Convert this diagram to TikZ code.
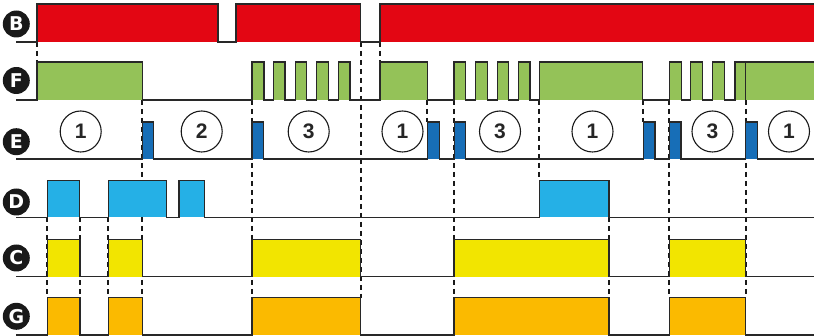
\documentclass[tikz,border=0pt]{standalone}
\usepackage{fontspec}
\setmainfont{Liberation Sans}
\newfontfamily\lblfont{DejaVu Sans}
\definecolor{cB}{RGB}{227,6,19}
\definecolor{cF}{RGB}{148,194,88}
\definecolor{cE}{RGB}{23,110,183}
\definecolor{cD}{RGB}{37,176,230}
\definecolor{cC}{RGB}{242,229,0}
\definecolor{cG}{RGB}{251,186,0}
\definecolor{wirec}{RGB}{40,40,40}
\newcommand\sigwave[4]{%
  \foreach \a/\b in {#4}{\fill[#3] (\a,#1) rectangle (\b,#2);}
  \draw[wire] (16,#2) foreach \a/\b in {#4} { -- (\a,#2) -- (\a,#1) -- (\b,#1) -- (\b,#2) } -- (815,#2);
}
\begin{document}
\begin{tikzpicture}[x=1pt,y=-1pt,
  wire/.style={line width=1.1pt, draw=wirec, line join=miter},
  dashv/.style={line width=1.8pt, draw=black!90, dash pattern=on 5pt off 4pt},
  lbl/.style={circle, fill=black!90, text=white, minimum size=27pt, inner sep=0pt, font=\lblfont\fontsize{19}{19}\selectfont\bfseries},
  num/.style={circle, draw=black!90, line width=1.1pt, fill=white, minimum size=41pt, inner sep=0pt, text=black!85, font=\fontsize{21}{21}\selectfont\bfseries}]
\useasboundingbox (0,0) rectangle (814,336);
% dashed guide lines
\foreach \x/\ya/\yb in {37/42/62, 47.3/217.5/297.7, 80/217.5/297.7, 108.3/217.5/297.7,
  142.3/100/297.7, 252/100/297.7, 360.7/42/297.7, 380/42/62, 427.3/100/122,
  454/100/297.7, 539.3/100/180.5, 609/217.5/297.7, 643.3/100/122, 669.3/100/297.7, 745.7/100/297.7}
  {\draw[dashv] (\x,\ya) -- (\x,\yb);}
% signals
\sigwave{4}{42}{cB}{37/218, 236/360.7, 380/815}
\sigwave{62}{100}{cF}{37/142.3, 252/264, 273.3/285, 295.3/306.7, 316.7/328.3, 338.3/350,
  380/427.3, 454/465.7, 475.7/487.3, 497.3/508.3, 518.3/530, 539.3/642.7,
  669.3/681.7, 690.7/702.7, 712.7/724.3, 735/745.7, 745.7/815}
\sigwave{122}{159}{cE}{142.3/153.5, 252/263.5, 427.3/439.3, 454.3/465.7, 643.3/655, 669.3/681, 745.7/757.3}
\sigwave{180.5}{217.5}{cD}{47.3/79.3, 108.3/166.7, 179/204.3, 539.3/609}
\sigwave{239.3}{276.7}{cC}{47.3/80, 108.3/142.3, 252/360.7, 454/609, 669.3/745.7}
\sigwave{297.7}{335}{cG}{47.3/80, 108.3/142.3, 252/360.7, 454/609, 669.3/745.7}
% row labels
\node[lbl] (lB) at (16.3,24) {B};
\node[lbl] (lF) at (16.3,80.5) {F};
\node[lbl] (lE) at (16.3,141.7) {E};
\node[lbl] (lD) at (16.3,202) {D};
\node[lbl] (lC) at (16.3,258) {C};
\node[lbl] (lG) at (16.3,316.3) {G};
% phase numbers
\node[num] (n1) at (80.7,131.5) {1};
\node[num] (n2) at (201.7,131.5) {2};
\node[num] (n3) at (308.7,131.5) {3};
\node[num] (n4) at (402.5,131.5) {1};
\node[num] (n5) at (500,131.5) {3};
\node[num] (n6) at (592.5,131.5) {1};
\node[num] (n7) at (712.5,131.5) {3};
\node[num] (n8) at (789,131.5) {1};
\end{tikzpicture}
\end{document}
